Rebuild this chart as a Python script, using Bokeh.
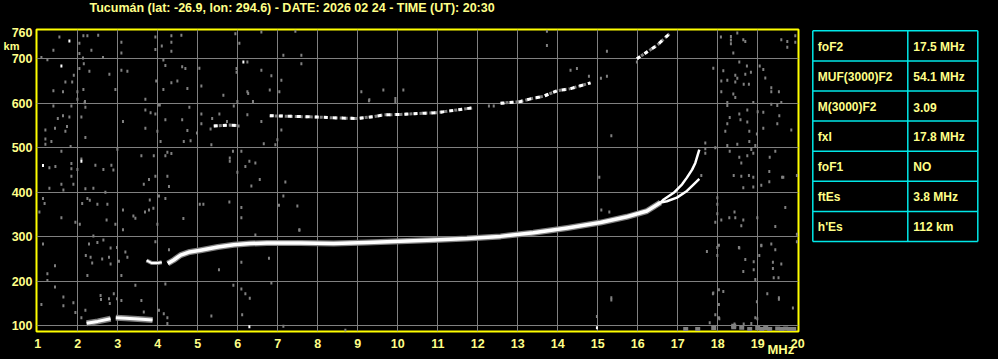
from bokeh.plotting import figure
from bokeh.models import Range1d, FixedTicker, LinearAxis, Title
from bokeh.layouts import row
from bokeh.embed import file_html
from bokeh.resources import INLINE
from bokeh.core.properties import value

TITLE = "Tucumán (lat: -26.9, lon: 294.6) - DATE: 2026 02 24 - TIME (UT): 20:30"
FREQ_TICKS = list(range(1, 21))
HEIGHT_TICKS = [100, 200, 300, 400, 500, 600, 700, 760]
FREQ_UNIT = "MHz"
HEIGHT_UNIT = "km"

# ---- F-layer ordinary trace (common part) ----
f_main = [4.25, 4.4, 4.57, 4.8, 5.07, 5.5, 5.9, 6.3, 6.73, 7.57, 8.4, 9.23, 10.07,
          10.9, 11.73, 12.57, 13.39, 14.24, 15.07, 15.73, 16.23, 16.57]
h_main = [240, 248, 259, 266, 270, 277, 282, 285, 286, 286, 285, 287, 290,
          293, 296, 301, 309, 320, 332, 345, 358, 377]
# upper (O) and lower (X) branches near the critical frequency
f_branch_o = [16.57, 16.65, 16.9, 17.11, 17.23, 17.36, 17.44, 17.54]
h_branch_o = [377, 384, 399, 418, 433, 451, 466, 496]
f_branch_x = [16.57, 16.73, 16.98, 17.23, 17.4, 17.54]
h_branch_x = [377, 380, 388, 403, 418, 430]
# short piece near 4 MHz
f_piece = [3.72, 3.85, 4.0, 4.1]
h_piece = [247, 241, 241, 243]
# sporadic E trace
f_es = [[2.22, 2.5, 2.82], [2.95, 3.2, 3.6, 3.87]]
h_es = [[106, 110, 116], [118, 117, 115, 113]]
# second-hop F trace segments
f_2f = [[5.4, 5.6, 5.8, 6.0],
        [6.8, 7.2, 7.6, 8.0, 8.5, 8.98, 9.4, 9.65, 10.07, 10.5, 10.98, 11.3, 11.65, 11.9],
        [12.57, 13.07, 13.32, 13.65, 13.98, 14.32, 14.82],
        [15.98, 16.23, 16.48, 16.79]]
h_2f = [[549, 550, 551, 550],
        [572, 571, 570, 569, 567, 566, 570, 574, 575, 577, 579, 583, 587, 590],
        [600, 604, 610, 616, 628, 633, 646],
        [700, 715, 730, 756]]

# ---- scattered echoes (noise), (MHz, km) ----
noise_left_top = [
    (1.54, 749), (2.04, 735), (2.14, 752), (2.24, 752), (2.51, 753), (1.39, 719), (2.34, 719),
    (2.04, 712), (2.13, 702), (1.09, 703), (1.24, 698), (2.04, 678), (2.15, 689), (2.29, 672),
    (1.90, 663), (1.69, 648), (1.86, 648), (1.39, 628), (1.63, 626), (1.99, 626), (2.14, 631),
    (1.99, 609), (2.18, 604), (1.39, 594), (1.84, 594), (2.63, 703), (2.79, 665), (2.94, 631),
    (3.09, 737), (3.09, 713), (3.09, 674), (3.24, 672), (3.94, 749), (3.94, 721), (4.10, 729),
    (4.34, 752), (4.34, 737), (4.59, 753), (4.34, 717), (4.14, 697), (4.19, 685), (3.96, 650),
    (4.49, 650), (4.34, 646), (4.14, 631), (4.61, 682), (4.69, 678), (4.74, 633), (5.04, 679),
    (5.09, 639), (3.69, 609), (4.01, 596), (5.94, 756), (6.04, 735), (5.97, 678), (5.97, 670),
    (6.24, 693), (6.24, 626), (6.59, 760), (6.59, 674), (6.84, 662), (7.09, 652), (6.80, 630),
    (7.04, 626), (6.38, 604), (5.99, 604), (5.90, 594), (7.14, 708), (7.44, 762), (7.59, 708),
    (7.59, 689), (9.09, 626), (9.29, 608), (9.64, 630), (10.14, 630), (9.94, 611), (9.94, 604),
    (12.28, 594), (12.40, 594), (9.28, 606), (6.59, 559), (6.26, 622), (5.64, 618),
]
noise_left_mid = [
    (2.17, 601), (2.19, 591), (1.50, 566), (1.63, 572), (1.79, 569), (1.73, 548), (1.43, 544),
    (1.19, 540), (1.69, 537), (1.19, 520), (1.34, 514), (1.19, 508), (1.82, 503), (2.09, 569),
    (2.19, 523), (3.13, 559), (3.69, 585), (3.82, 579), (3.94, 576), (3.69, 544), (3.99, 537),
    (4.05, 596), (4.07, 514), (4.19, 563), (4.61, 563), (4.74, 539), (4.79, 591), (4.82, 516),
    (4.65, 514), (4.98, 533), (5.09, 576), (5.09, 554), (5.36, 566), (5.32, 542), (5.54, 576),
    (5.73, 559), (5.34, 507), (6.02, 549), (6.24, 574), (6.65, 509), (6.94, 507), (6.99, 518),
    (7.09, 540), (1.59, 492), (1.29, 455), (1.44, 458), (1.84, 465), (1.84, 453), (1.84, 436),
    (2.09, 475), (1.99, 451), (2.44, 461), (2.64, 451), (2.84, 461), (2.89, 450), (1.89, 418),
    (1.59, 418), (1.64, 405), (1.29, 409), (2.19, 408), (2.39, 409), (2.69, 400), (2.99, 497),
    (3.59, 482), (3.90, 482), (4.24, 490), (4.34, 487), (4.19, 482), (3.78, 429), (3.94, 436),
    (3.65, 418), (4.24, 436), (4.28, 413), (5.80, 477), (5.80, 470), (5.88, 492), (6.09, 492),
    (5.99, 445), (6.19, 458), (6.29, 470), (6.44, 466), (6.34, 414), (6.55, 429), (7.19, 423),
]
noise_left_low = [
    (1.13, 386), (1.17, 375), (1.04, 356), (1.59, 343), (2.11, 375), (2.24, 386), (2.30, 382),
    (2.49, 373), (2.74, 373), (2.39, 302), (2.64, 293), (1.94, 333), (2.05, 328), (2.72, 338),
    (2.94, 328), (3.13, 316), (3.13, 360), (3.39, 347), (3.44, 342), (3.68, 356), (3.78, 360),
    (3.89, 364), (3.80, 383), (3.99, 328), (4.03, 392), (4.19, 386), (4.64, 341), (5.05, 373),
    (5.14, 373), (5.79, 378), (6.09, 366), (6.09, 343), (6.44, 304), (7.03, 371), (7.14, 392),
    (7.49, 369), (7.54, 316), (1.13, 284), (1.24, 217), (1.24, 202), (1.43, 235), (1.43, 187),
    (1.09, 148), (1.64, 165), (1.64, 145), (1.89, 152), (1.94, 130), (2.09, 118), (2.19, 135),
    (2.24, 213), (2.20, 258), (2.32, 254), (2.36, 241), (2.28, 284), (2.49, 287), (2.61, 250),
    (2.78, 254), (2.82, 239), (2.82, 275), (2.98, 276), (3.03, 245), (3.19, 266), (3.24, 254),
    (3.09, 213), (2.57, 168), (2.58, 159), (2.78, 161), (2.90, 172), (2.80, 150), (2.98, 161),
    (3.09, 157), (3.44, 191), (3.59, 157), (3.65, 131), (3.94, 289), (4.03, 135), (4.15, 127),
    (4.24, 118), (4.24, 105), (4.19, 194), (4.28, 271), (5.53, 226), (5.34, 122), (5.89, 191),
    (6.09, 243), (6.09, 183), (6.19, 172), (6.30, 162), (6.11, 125), (6.78, 252), (6.84, 196),
    (7.14, 99), (8.69, 90), (7.54, 315),
]
noise_middle = [
    (13.73, 762), (13.73, 730), (15.23, 717), (14.32, 674), (14.48, 678), (14.78, 661),
    (15.08, 656), (15.23, 661), (15.34, 527), (15.98, 693), (15.04, 434), (15.09, 360),
    (15.29, 356), (14.98, 121), (15.34, 163), (15.34, 158),
]
noise_right = [
    (17.73, 267), (17.99, 276), (18.03, 281), (17.99, 258), (18.53, 276), (18.69, 249),
    (18.64, 222), (18.90, 244), (18.90, 226), (18.94, 204), (19.09, 281), (19.34, 284),
    (19.44, 271), (19.38, 243), (19.38, 229), (19.59, 239), (19.40, 208), (19.52, 208),
    (17.88, 172), (18.03, 181), (18.14, 177), (18.03, 148), (17.94, 125), (18.03, 118),
    (17.80, 107), (19.24, 172), (18.98, 154), (18.94, 118), (19.53, 163), (19.88, 140),
    (19.98, 306), (19.98, 289), (18.08, 749), (18.33, 750), (18.33, 742), (18.33, 734),
    (18.39, 713), (18.49, 758), (18.64, 743), (18.69, 739), (19.59, 743), (19.74, 739),
    (19.74, 726), (19.94, 752), (19.94, 737), (17.89, 679), (18.14, 673), (18.09, 650),
    (18.09, 626), (18.24, 652), (18.44, 663), (18.49, 656), (18.54, 693), (18.73, 684),
    (18.83, 670), (18.69, 665), (18.44, 648), (18.65, 643), (18.78, 643), (18.39, 621),
    (18.44, 613), (19.05, 684), (19.14, 676), (19.19, 657), (19.34, 635), (19.34, 626),
    (19.53, 626), (18.24, 602), (18.89, 602), (19.34, 598), (19.49, 595), (19.59, 602),
    (18.24, 595), (18.74, 585), (18.54, 576), (18.30, 568), (18.57, 563), (18.24, 554),
    (18.74, 558), (19.14, 580), (19.00, 581), (19.54, 572), (19.49, 554), (19.14, 544),
    (19.84, 540), (18.19, 537), (18.79, 537), (18.98, 531), (18.49, 508), (18.24, 505),
    (18.79, 514), (18.94, 505), (18.84, 496), (18.89, 488), (18.30, 492), (18.54, 479),
    (18.74, 482), (18.59, 466), (19.44, 492), (19.30, 479), (19.29, 447), (18.40, 438),
    (18.59, 436), (18.78, 438), (18.89, 434), (19.61, 434), (19.98, 438), (17.69, 511),
    (17.69, 498), (17.69, 488), (17.94, 500), (17.59, 438), (18.64, 410), (18.89, 412),
    (19.09, 416), (19.29, 424), (19.64, 434), (17.99, 388), (17.99, 373), (17.99, 352),
    (17.94, 333), (18.09, 338), (18.29, 343), (18.42, 356), (18.44, 343), (18.64, 338),
    (18.59, 325), (18.99, 343), (19.44, 323), (19.69, 366), (18.54, 275), (19.04, 258),
    (19.09, 280), (17.89, 174), (19.53, 160), (18.04, 116), (18.99, 116), (18.42, 104),
    (18.65, 104), (18.84, 105),
]
noise_bottom = [
    (17.20, 93), (17.50, 93), (17.90, 95), (18.40, 97), (18.60, 96), (18.80, 93), (19.00, 95),
    (19.10, 93), (19.30, 93), (19.50, 94), (19.60, 93), (19.80, 93), (19.90, 93), (18.40, 100),
    (19.20, 95), (19.70, 94),
]
noise_white = [(1.79, 740), (1.59, 684), (6.14, 693), (1.13, 460), (2.09, 470),
               (6.29, 98), (14.98, 96)]

# ---- parameter table ----
param_names = ["foF2", "MUF(3000)F2", "M(3000)F2", "fxI", "foF1", "ftEs", "h'Es"]
param_values = ["17.5 MHz", "54.1 MHz", "3.09", "17.8 MHz", "NO", "3.8 MHz", "112 km"]

YELLOW_TEXT = "#ffff88"
FRAME_YELLOW = "#ffff00"
GRAY = "#808080"
CYAN = "#00e8e8"
FONT = "Liberation Sans"

p = figure(width=808, height=359, x_range=Range1d(0.9675, 20.02), y_range=Range1d(87.3, 765.8),
           output_backend="svg", toolbar_location=None, title=None,
           min_border_left=36, min_border_right=10, min_border_top=29, min_border_bottom=26,
           background_fill_color="black", border_fill_color="black")
p.outline_line_color = FRAME_YELLOW
p.outline_line_width = 2

p.xaxis.ticker = FixedTicker(ticks=FREQ_TICKS)
p.yaxis.ticker = FixedTicker(ticks=HEIGHT_TICKS)


def style_axis(ax, size, standoff):
    ax.axis_line_color = None
    ax.major_tick_line_color = None
    ax.minor_tick_line_color = None
    ax.major_tick_out = 0
    ax.major_tick_in = 0
    ax.minor_tick_out = 0
    ax.minor_tick_in = 0
    ax.major_label_text_color = YELLOW_TEXT
    ax.major_label_text_font = FONT
    ax.major_label_text_font_style = "bold"
    ax.major_label_text_font_size = size
    ax.major_label_standoff = standoff


style_axis(p.xaxis[0], "12.5px", 7)
style_axis(p.yaxis[0], "12.5px", 4)

# unit labels as extra axes with a single tick
km_axis = LinearAxis(ticker=FixedTicker(ticks=[729]), major_label_overrides={729: HEIGHT_UNIT})
style_axis(km_axis, "11px", -11)
p.add_layout(km_axis, "left")
mhz_axis = LinearAxis(ticker=FixedTicker(ticks=[19.58]), major_label_overrides={19.58: FREQ_UNIT})
style_axis(mhz_axis, "13px", -9)
p.add_layout(mhz_axis, "below")

# blank spacer band above the frame (one blank label), then the title above it
spacer = LinearAxis(ticker=FixedTicker(ticks=[10]), major_label_overrides={10: "\u00a0"})
style_axis(spacer, "9px", 0)
p.add_layout(spacer, "above")
p.add_layout(Title(text=TITLE, align="left", offset=53, standoff=0, vertical_align="top",
                   text_color=YELLOW_TEXT, text_font=FONT, text_font_style="bold",
                   text_font_size="12.5px"), "above")

p.xgrid.ticker = FixedTicker(ticks=FREQ_TICKS[1:-1])
p.ygrid.ticker = FixedTicker(ticks=HEIGHT_TICKS[:-1])
p.grid.grid_line_color = GRAY
p.grid.grid_line_width = 1


def split(pts):
    return [a for a, b in pts], [b for a, b in pts]


gray_pts = noise_left_top + noise_left_mid + noise_left_low + noise_middle + noise_right
gx, gy = split(gray_pts)
p.rect(gx, gy, width=2, height=3, width_units="screen", height_units="screen",
       fill_color=GRAY, line_color=None)
bx, by = split(noise_bottom)
p.rect(bx, by, width=5, height=4, width_units="screen", height_units="screen",
       fill_color=GRAY, line_color=None)
wx, wy = split(noise_white)
p.rect(wx, wy, width=2, height=3, width_units="screen", height_units="screen",
       fill_color="white", line_color=None)

# traces
p.multi_line(f_es, h_es, line_color=GRAY, line_width=6)
p.multi_line(f_es, h_es, line_color="white", line_width=3)
p.line(f_piece, h_piece, line_color=GRAY, line_width=4)
p.line(f_piece, h_piece, line_color="white", line_width=2)
p.line(f_main, h_main, line_color=GRAY, line_width=6, line_join="round")
p.line(f_main, h_main, line_color="white", line_width=3.5, line_join="round")
p.line(f_branch_o, h_branch_o, line_color="white", line_width=2.5, line_join="round")
p.line(f_branch_x, h_branch_x, line_color="white", line_width=2.5, line_join="round")
p.multi_line(f_2f, h_2f, line_color=GRAY, line_width=3, line_dash="3 2")
p.multi_line(f_2f, h_2f, line_color="white", line_width=3, line_dash="4 5")

# table figure: page pixel rows (y downward), frame spans y 29..333 like the main chart
t = figure(width=190, height=359, x_range=Range1d(0, 190), y_range=Range1d(333, 29),
           output_backend="svg", toolbar_location=None,
           min_border_left=0, min_border_right=0, min_border_top=29, min_border_bottom=26,
           x_axis_location=None, y_axis_location=None,
           background_fill_color="black", border_fill_color="black")
t.outline_line_color = None
t.grid.visible = False

n = len(param_names)
top, row_h = 30.3, 30.3
left, mid, right = 4.3, 99.3, 169.3
bottom = top + n * row_h
ys = [top + i * row_h for i in range(n + 1)]
t.segment(x0=[left] * (n + 1), y0=ys, x1=[right] * (n + 1), y1=ys, line_color=CYAN, line_width=1.5)
t.segment(x0=[left, mid, right], y0=[top] * 3, x1=[left, mid, right], y1=[bottom] * 3,
          line_color=CYAN, line_width=1.5)
yc = [top + (i + 0.5) * row_h + 1 for i in range(n)]
t.text(x=[left + 5] * n, y=yc, text=param_names, text_color=YELLOW_TEXT, text_font=value(FONT),
       text_font_style="bold", text_font_size="12px", text_align="left", text_baseline="middle")
t.text(x=[mid + 5.5] * n, y=yc, text=param_values, text_color=YELLOW_TEXT, text_font=value(FONT),
       text_font_style="bold", text_font_size="12px", text_align="left", text_baseline="middle")

layout = row(p, t, spacing=0)
layout.styles = {"background-color": "black"}
open("out.html", "w").write(file_html(layout, INLINE))
